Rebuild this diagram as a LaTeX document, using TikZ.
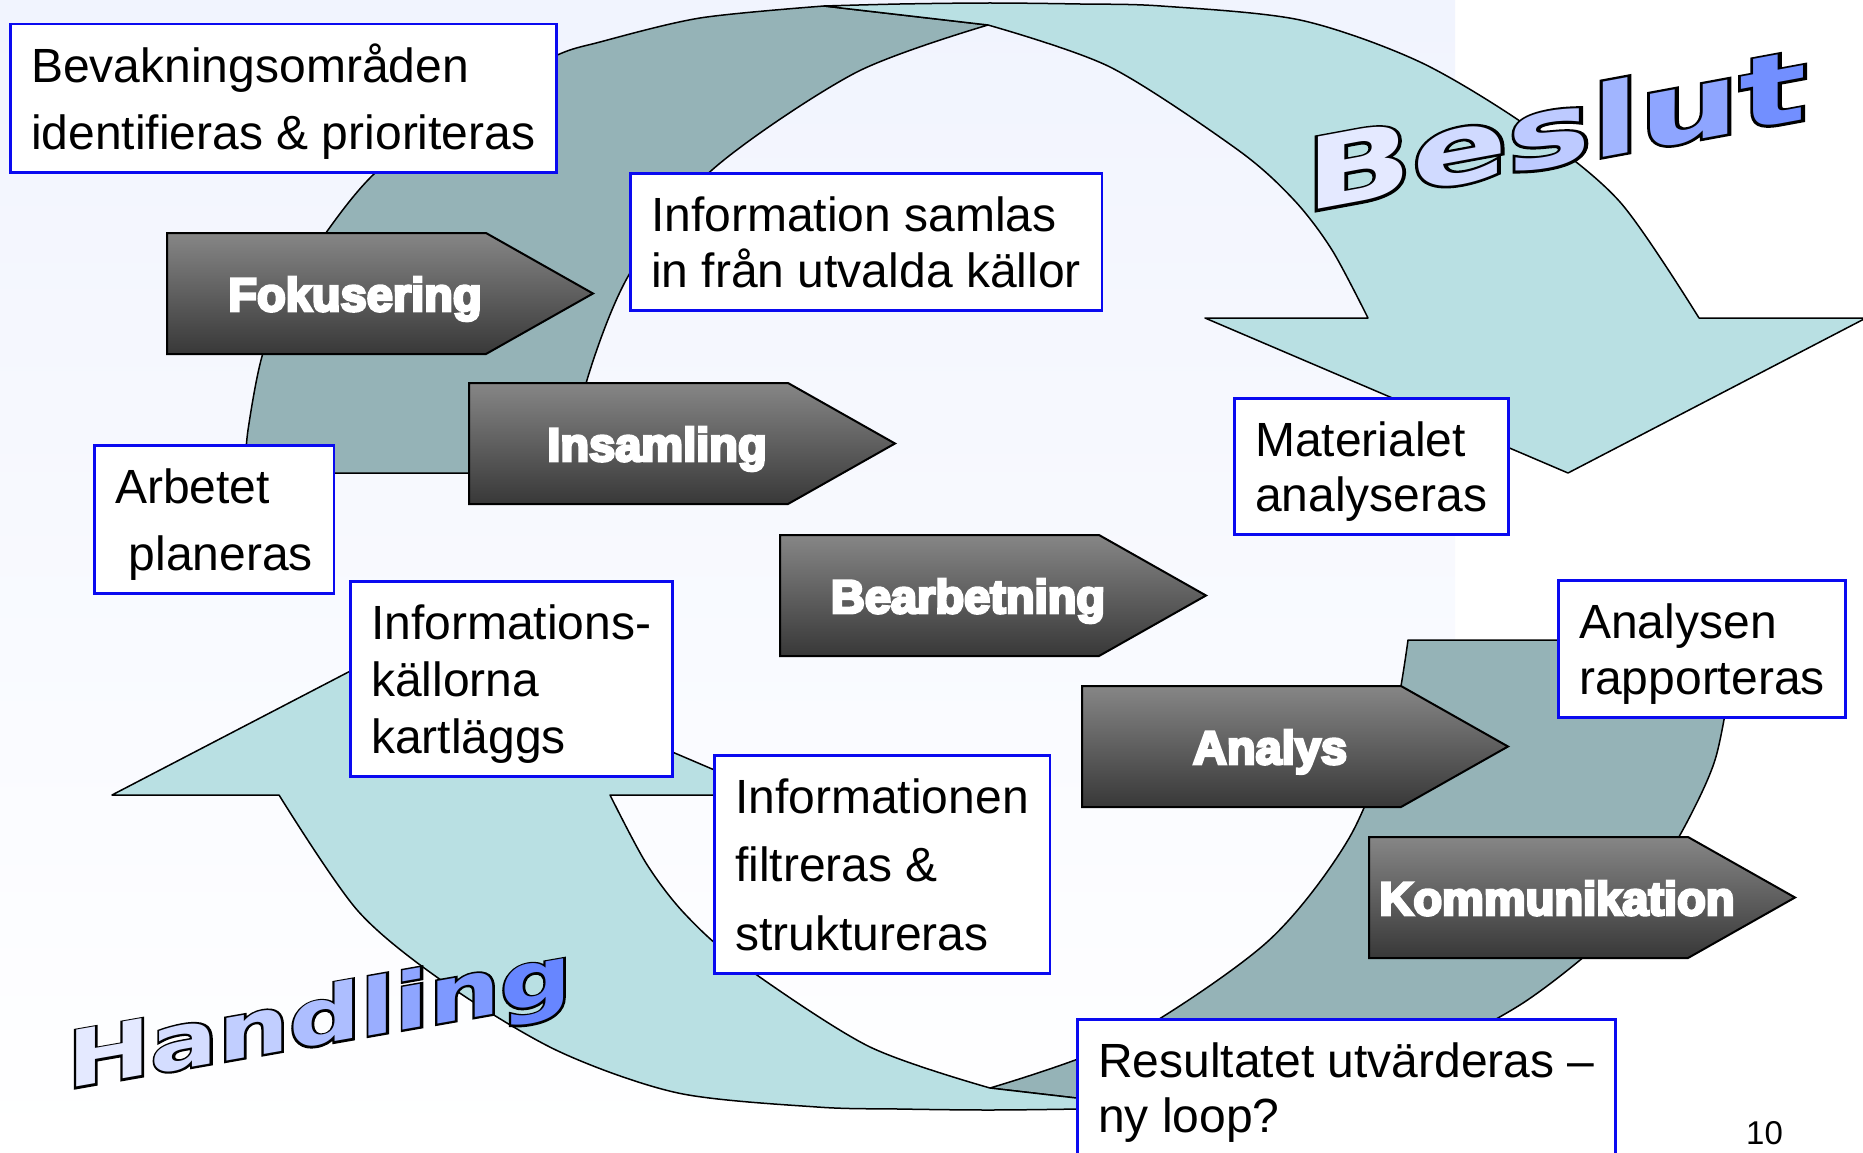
\documentclass[tikz,border=0pt]{standalone}
\usepackage{fontspec}
\setmainfont{Liberation Sans}
\newfontfamily\chevfont[FakeBold=6]{Liberation Sans Bold}
\newfontfamily\artfont{DejaVu Sans Bold}
\newfontfamily\artedge[FakeBold=5]{DejaVu Sans Bold}

\definecolor{bgtint}{RGB}{241,244,254}
\definecolor{ribbonlight}{RGB}{185,224,227}
\definecolor{ribbondark}{RGB}{149,179,183}
\definecolor{boxblue}{RGB}{10,10,240}
\definecolor{chevtop}{RGB}{134,134,134}
\definecolor{chevbot}{RGB}{56,56,56}
\definecolor{artblue}{RGB}{60,100,255}

% first and last line struts of the text boxes
\newcommand\boxtopstrut{\rule{0pt}{58pt}}
\newcommand\boxendstrut{\rule[-23pt]{0pt}{0pt}}
% one letter of the word art: share of blue, letter (black edge under the fill)
\newcommand\artletter[2]{\rlap{\artedge\color{black}#2}{\color{artblue!#1!white}#2}}

\begin{document}
\begin{tikzpicture}[x=1pt,y=-1pt,
      info_box/.style={
         draw=boxblue,
         line width=2.5pt,
         fill=white,
         inner xsep=21pt,
         inner ysep=0pt,
         align=left,
         anchor=north west,
         font=\fontsize{48}{#1}\selectfont},
      chev_shape/.style={
         draw=black,
         line width=2pt,
         top color=chevtop,
         bottom color=chevbot},
      chev_text/.style={
         text=white,
         anchor=base,
         inner sep=0pt,
         font=\chevfont\fontsize{47}{47}\selectfont},
      ribbon/.style={
         draw=black,
         line width=1.5pt,
         line join=round},
      word_art/.style={
         anchor=base west,
         inner sep=0pt,
         font=\artfont\fontsize{#1}{#1}\selectfont}
]
      % background
      \fill[white] (0,0) rectangle (1863,1153);
      \shade[top color=bgtint, bottom color=white] (0,0) rectangle (1455,1153);
      \useasboundingbox (0,0) rectangle (1863,1153);

      % the two curved arrows, the lower one turned half round
      \foreach \r in {0,180} {
        \begin{scope}[rotate around={\r:(989,556.5)}]
          \path[ribbon, fill=ribbondark]
            plot[smooth] coordinates {(245,473) (248,430) (263,353) (292,289) (328,230)
              (375,173) (455,110) (553,57) (600,42) (700,18) (824,6)}
            -- (988,25)
            -- plot[smooth] coordinates {(988,25) (855,73) (712,170) (630,273) (587,380) (570,473)}
            -- cycle;
          \path[ribbon, fill=ribbonlight]
            plot[smooth] coordinates {(824,6) (900,4) (990,3) (1080,4) (1161,6) (1300,20)
              (1420,62) (1530,128) (1620,202) (1699,318)}
            -- (1866,318) -- (1568,473) -- (1205,318) -- (1368,318)
            -- plot[smooth] coordinates {(1368,318) (1332,250) (1294,200) (1238,150) (1110,67) (988,25)}
            -- cycle;
        \end{scope}
      }

      % process steps
      \foreach \x/\y/\name/\txt in {% left/top/name/text
        167/233/focus/Fokusering,
        469/383/gather/Insamling,
        780/535/process/Bearbetning,
        1082/686/analysis/Analys,
        1369/837/communicate/Kommunikation} {
        \path[chev_shape] (\x,\y) -- ++(319,0) -- ++(107,60.5) -- ++(-107,60.5) -- ++(-319,0) -- cycle;
        \node[chev_text] (\name) at (\x+188,\y+78) {\txt};
      }

      % text boxes
      \node[info_box=67pt] (areas) at (9,23) {\boxtopstrut Bevakningsområden\\identifieras \& prioriteras\boxendstrut};
      \node[info_box=56pt] (collect) at (629,172) {\boxtopstrut Information samlas\\in från utvalda källor\boxendstrut};
      \node[info_box=67pt] (plan) at (93,444) {\boxtopstrut Arbetet\\\hspace*{0.28em}planeras\boxendstrut};
      \node[info_box=55pt] (material) at (1233,397) {\boxtopstrut Materialet\\analyseras\boxendstrut};
      \node[info_box=57pt] (sources) at (349,580) {\boxtopstrut Informations-\\källorna\\kartläggs\boxendstrut};
      \node[info_box=56pt] (report) at (1557,579) {\boxtopstrut Analysen\\rapporteras\boxendstrut};
      \node[info_box=68.5pt] (filter) at (713,754) {\boxtopstrut Informationen\\filtreras \&\\struktureras\boxendstrut};
      \node[info_box=55pt] (result) at (1076,1018) {\boxtopstrut Resultatet utvärderas –\\ny loop?\rule[-40pt]{0pt}{0pt}};

      % word art
      \node[word_art=99, yslant=0.185, xscale=1.42] (decision) at (1305,212)
        {\artletter{14}{B}\artletter{24}{e}\artletter{34}{s}\artletter{48}{l}\artletter{58}{u}\artletter{72}{t}};
      \node[word_art=78, yslant=0.176, xscale=1.28] (action) at (67,1089)
        {\artletter{14}{H}\artletter{22}{a}\artletter{32}{n}\artletter{42}{d}\artletter{52}{l}\artletter{58}{i}\artletter{66}{n}\artletter{78}{g}};

      % page number
      \node[anchor=base west, inner sep=0pt, font=\fontsize{33}{33}\selectfont] (page) at (1746,1144) {10};
\end{tikzpicture}
\end{document}
